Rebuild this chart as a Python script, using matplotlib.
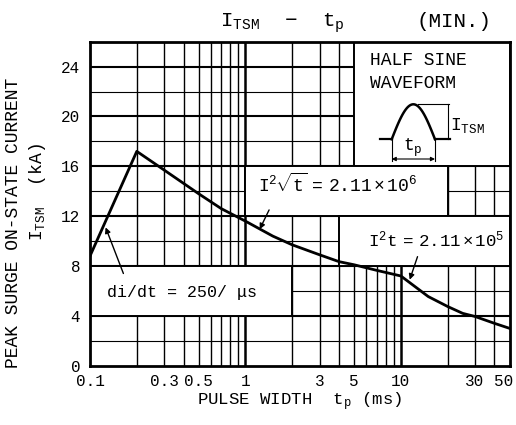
import numpy as np
import matplotlib
matplotlib.use('Agg')
import matplotlib.pyplot as plt
import matplotlib.transforms as mtransforms
from matplotlib.patches import Rectangle

# ---------------- data ----------------
pulse_width_ms = [0.1, 0.2, 0.3, 0.5, 0.7, 1.0, 1.5, 2.0, 3.0, 4.0, 5.0, 7.0,
                  10.0, 15.0, 20.0, 25.0, 30.0, 40.0, 50.0]
itsm_ka = [8.8, 17.2, 15.7, 13.8, 12.6, 11.6, 10.4, 9.7, 8.9, 8.35, 8.1, 7.65,
           7.2, 5.55, 4.75, 4.2, 3.95, 3.4, 3.0]
x_ticks = [0.1, 0.3, 0.5, 1, 3, 5, 10, 30, 50]
x_tick_labels = ['0.1', '0.3', '0.5', '1', '3', '5', '10', '30', '50']
y_ticks = [0, 4, 8, 12, 16, 20, 24]
y_tick_labels = ['0', '4', '8', '12', '16', '20', '24']

# ---------------- style ----------------
FONT = ['Liberation Mono', 'DejaVu Sans Mono']
plt.rcParams['font.family'] = FONT
plt.rcParams['mathtext.fontset'] = 'custom'
plt.rcParams['mathtext.rm'] = 'Liberation Mono'
plt.rcParams['mathtext.it'] = 'Liberation Mono'
plt.rcParams['mathtext.bf'] = 'Liberation Mono:bold'

W, H = 516, 425
fig = plt.figure(figsize=(W / 100, H / 100), dpi=100)
fig.patch.set_facecolor('white')

L, R, T, B = 90, 509.5, 41.7, 365.7
ax = fig.add_axes([L / W, 1 - B / H, (R - L) / W, (B - T) / H])
ax.set_xscale('log')
ax.set_xlim(0.1, 50)
ax.set_ylim(0, 26)

# grid
vgrid = [d * k for d in (0.1, 1, 10) for k in range(1, 10) if 0.1 < d * k < 50]
for v in vgrid:
    major = v in (1, 10)
    ax.axvline(v, color='black', lw=1.8 if major else 1.0, zorder=1)
for h in range(2, 26, 2):
    major = h % 4 == 0
    ax.axhline(h, color='black', lw=1.5 if major else 0.8, zorder=1)

# white label boxes (x0, x1, y0, y1)
boxes = [(5, 50, 16, 26), (1, 20, 12, 16), (4, 50, 8, 12), (0.1, 2, 4, 8)]
for x0, x1, y0, y1 in boxes:
    ax.add_patch(Rectangle((x0, y0), x1 - x0, y1 - y0, facecolor='white',
                           edgecolor='black', lw=1.4, zorder=2))

# curve
ax.plot(pulse_width_ms, itsm_ka, color='black', lw=2.0, zorder=4,
        solid_joinstyle='round')

# ticks
ax.set_xticks(x_ticks)
ax.set_xticklabels(x_tick_labels)
ax.xaxis.set_minor_locator(matplotlib.ticker.NullLocator())
ax.set_yticks(y_ticks)
ax.set_yticklabels(y_tick_labels)
ax.tick_params(axis='both', length=0, labelsize=11.5, colors='black')
ax.tick_params(axis='x', pad=6)
ax.tick_params(axis='y', pad=7)
last = ax.get_xticklabels()[-1]
last.set_horizontalalignment('right')
last.set_transform(last.get_transform() +
                   mtransforms.ScaledTranslation(4 / 100, 0, fig.dpi_scale_trans))
for s in ax.spines.values():
    s.set_linewidth(2.0)
    s.set_zorder(6)

# annotation leaders
arw = dict(arrowstyle='-|>', lw=1.0, color='black', mutation_scale=8,
           shrinkA=0, shrinkB=0)
ax.annotate('', xy=(0.126, 11.1), xytext=(0.164, 7.4), arrowprops=arw, zorder=5)
ax.annotate('', xy=(1.235, 10.95), xytext=(1.42, 12.5), arrowprops=arw, zorder=5)
ax.annotate('', xy=(11.4, 6.9), xytext=(12.8, 8.75), arrowprops=arw, zorder=5)


def ftext(px, py, s, **kw):
    return fig.text(px / W, 1 - py / H, s, color='black', **kw)


# titles & labels
ftext(282, 27, r'$\mathrm{I}_{\mathrm{TSM}}$  $-$  $\mathrm{t}_{\mathrm{p}}$',
      fontsize=15, ha='center', va='baseline')
ftext(454, 27, '(MIN.)', fontsize=15, ha='center', va='baseline')
ftext(300, 405, r'PULSE WIDTH  $\mathrm{t}_{\mathrm{p}}$ (ms)', fontsize=12.5,
      ha='center', va='baseline')
ftext(14, 223, 'PEAK SURGE ON-STATE CURRENT', fontsize=13, rotation=90,
      ha='center', va='center')
ftext(38, 192, r'$\mathrm{I}_{\mathrm{TSM}}$  (kA)', fontsize=13, rotation=90,
      ha='center', va='center')

# box texts
ftext(370, 65, 'HALF SINE', fontsize=13, ha='left', va='baseline')
ftext(370, 88, 'WAVEFORM', fontsize=13, ha='left', va='baseline')
ftext(258, 192, r'$\mathrm{I}^{2}\!\sqrt{\mathrm{t}}\ =\ 2.11 \times 10^{6}$',
      fontsize=13, ha='left', va='baseline')
ftext(368, 247, r'$\mathrm{I}^{2}\mathrm{t}\ =\ 2.11 \times 10^{5}$',
      fontsize=12.5, ha='left', va='baseline')
ftext(107, 297, 'di/dt = 250/ μs', fontsize=12, ha='left', va='baseline')

# inset waveform sketch (pixel coordinates)
ins = fig.add_axes([375 / W, 1 - 166 / H, 90 / W, 68 / H])
ins.set_xlim(375, 465)
ins.set_ylim(166, 98)
ins.axis('off')
ins.set_zorder(10)
s = np.linspace(0, 1, 80)
xs = 391.7 + 43.3 * s
ys = 139.3 - 35 * np.sin(np.pi * s)
ins.plot([380, 391.7], [139.3, 139.3], color='black', lw=1.6)
ins.plot(xs, ys, color='black', lw=1.8)
ins.plot([435, 450], [139.3, 139.3], color='black', lw=1.6)
ins.plot([418, 449], [104.3, 104.3], color='black', lw=0.8)
ins.plot([447.7, 447.7], [104.3, 139.3], color='black', lw=0.8)
ins.plot([391.7, 391.7], [139.3, 161], color='black', lw=0.8)
ins.plot([435, 435], [139.3, 161], color='black', lw=0.8)
ins.annotate('', xy=(391.7, 159), xytext=(435, 159),
             arrowprops=dict(arrowstyle='<|-|>', lw=0.8, color='black',
                             mutation_scale=6, shrinkA=0, shrinkB=0))
ftext(450, 130, r'$\mathrm{I}_{\mathrm{TSM}}$', fontsize=13, ha='left',
      va='baseline', zorder=11)
ftext(413, 151, r'$\mathrm{t}_{\mathrm{p}}$', fontsize=13, ha='center',
      va='baseline', zorder=11)

fig.savefig('out.png', dpi=100, facecolor='white')
